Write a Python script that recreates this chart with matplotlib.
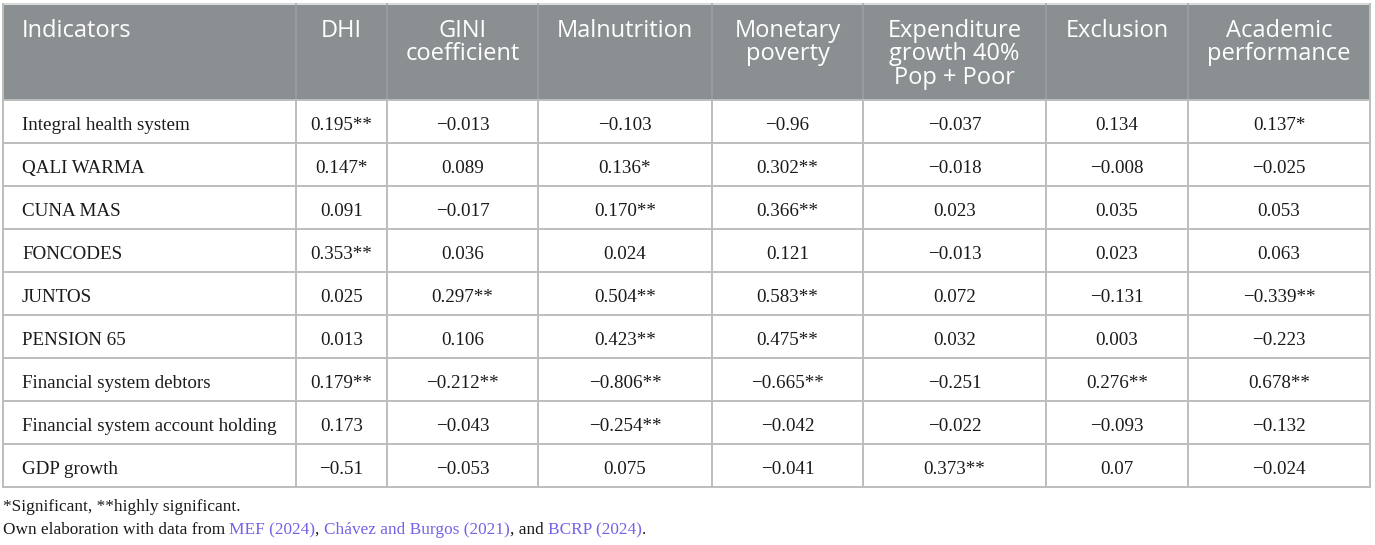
import matplotlib.pyplot as plt
from matplotlib.patches import Rectangle

# ── data ─────────────────────────────────────────────────────
headers = ["Indicators", "DHI", "GINI\ncoefficient", "Malnutrition",
           "Monetary\npoverty", "Expenditure\ngrowth 40%\nPop + Poor",
           "Exclusion", "Academic\nperformance"]

indicators = ["Integral health system", "QALI WARMA", "CUNA MAS", "FONCODES",
              "JUNTOS", "PENSION 65", "Financial system debtors",
              "Financial system account holding", "GDP growth"]

dhi = ["0.195**", "0.147*", "0.091", "0.353**", "0.025", "0.013", "0.179**", "0.173", "\u22120.51"]
gini = ["\u22120.013", "0.089", "\u22120.017", "0.036", "0.297**", "0.106", "\u22120.212**", "\u22120.043", "\u22120.053"]
malnutrition = ["\u22120.103", "0.136*", "0.170**", "0.024", "0.504**", "0.423**", "\u22120.806**", "\u22120.254**", "0.075"]
monetary = ["\u22120.96", "0.302**", "0.366**", "0.121", "0.583**", "0.475**", "\u22120.665**", "\u22120.042", "\u22120.041"]
expenditure = ["\u22120.037", "\u22120.018", "0.023", "\u22120.013", "0.072", "0.032", "\u22120.251", "\u22120.022", "0.373**"]
exclusion = ["0.134", "\u22120.008", "0.035", "0.023", "\u22120.131", "0.003", "0.276**", "\u22120.093", "0.07"]
academic = ["0.137*", "\u22120.025", "0.053", "0.063", "\u22120.339**", "\u22120.223", "0.678**", "\u22120.132", "\u22120.024"]

columns = [dhi, gini, malnutrition, monetary, expenditure, exclusion, academic]

note = "*Significant, **highly significant."
source_parts = [("Own elaboration with data from ", False), ("MEF (2024)", True), (", ", False),
                ("Ch\u00e1vez and Burgos (2021)", True), (", and ", False), ("BCRP (2024)", True), (".", False)]

# ── layout (pixel coords) ────────────────────────────────────
col_edges = [3, 296, 387, 538, 712, 863, 1046, 1188, 1370]
head_top, head_bot = 4, 100
row_h = 43

HEAD_BG = '#8a9091'
GRID = '#bdbdbd'
LINK = '#7263e6'
TXT = '#1a1a1a'
serif = 'Liberation Serif'
sans = 'Open Sans'

fig = plt.figure(figsize=(13.75, 5.45), dpi=100)
ax = fig.add_axes([0, 0, 1, 1])
ax.set_xlim(0, 1375)
ax.set_ylim(545, 0)
ax.axis('off')

# header block
ax.add_patch(Rectangle((col_edges[0], head_top), col_edges[-1] - col_edges[0],
                       head_bot - head_top, facecolor=HEAD_BG, edgecolor='none'))
ax.plot([col_edges[0], col_edges[-1]], [head_top, head_top], color='#d9dbdb', lw=1.5)
for x in col_edges[1:-1]:
    ax.plot([x, x], [head_top, head_bot], color='#9ba0a1', lw=1.1)

for i, h in enumerate(headers):
    for k, line in enumerate(h.split('\n')):
        yb = 37 + 23.5 * k
        if i == 0:
            ax.text(col_edges[0] + 19, yb, line, ha='left', va='baseline', color='white',
                    fontsize=17, family=sans)
        else:
            cx = (col_edges[i] + col_edges[i + 1]) / 2
            ax.text(cx, yb, line, ha='center', va='baseline', color='white',
                    fontsize=17, family=sans)

# body grid
n = len(indicators)
table_bot = head_bot + n * row_h
for r in range(n + 1):
    y = head_bot + r * row_h
    ax.plot([col_edges[0], col_edges[-1]], [y, y], color=GRID, lw=1.4)
for x in col_edges:
    ax.plot([x, x], [head_bot, table_bot], color=GRID, lw=1.4)
for x in (col_edges[0], col_edges[-1]):
    ax.plot([x, x], [head_top, head_bot], color=GRID, lw=1.4)

# cell text
for r, name in enumerate(indicators):
    yb = head_bot + r * row_h + 30
    ax.text(col_edges[0] + 19, yb, name, ha='left', va='baseline',
            fontsize=13.7, family=serif, color=TXT)
    for c, vals in enumerate(columns):
        cx = (col_edges[c + 1] + col_edges[c + 2]) / 2
        ax.text(cx, yb, vals[r], ha='center', va='baseline',
                fontsize=13.7, family=serif, color=TXT)

# footnotes
ax.text(3, 511, note, ha='left', va='baseline', fontsize=12.4, family=serif, color=TXT)
x = 3
renderer = fig.canvas.get_renderer()
for txt, is_link in source_parts:
    t = ax.text(x, 534, txt, ha='left', va='baseline', fontsize=12.4, family=serif,
                color=LINK if is_link else TXT)
    bb = t.get_window_extent(renderer=renderer)
    x += bb.width * 1375 / fig.bbox.width

fig.savefig('out.png', dpi=100, facecolor='white')
